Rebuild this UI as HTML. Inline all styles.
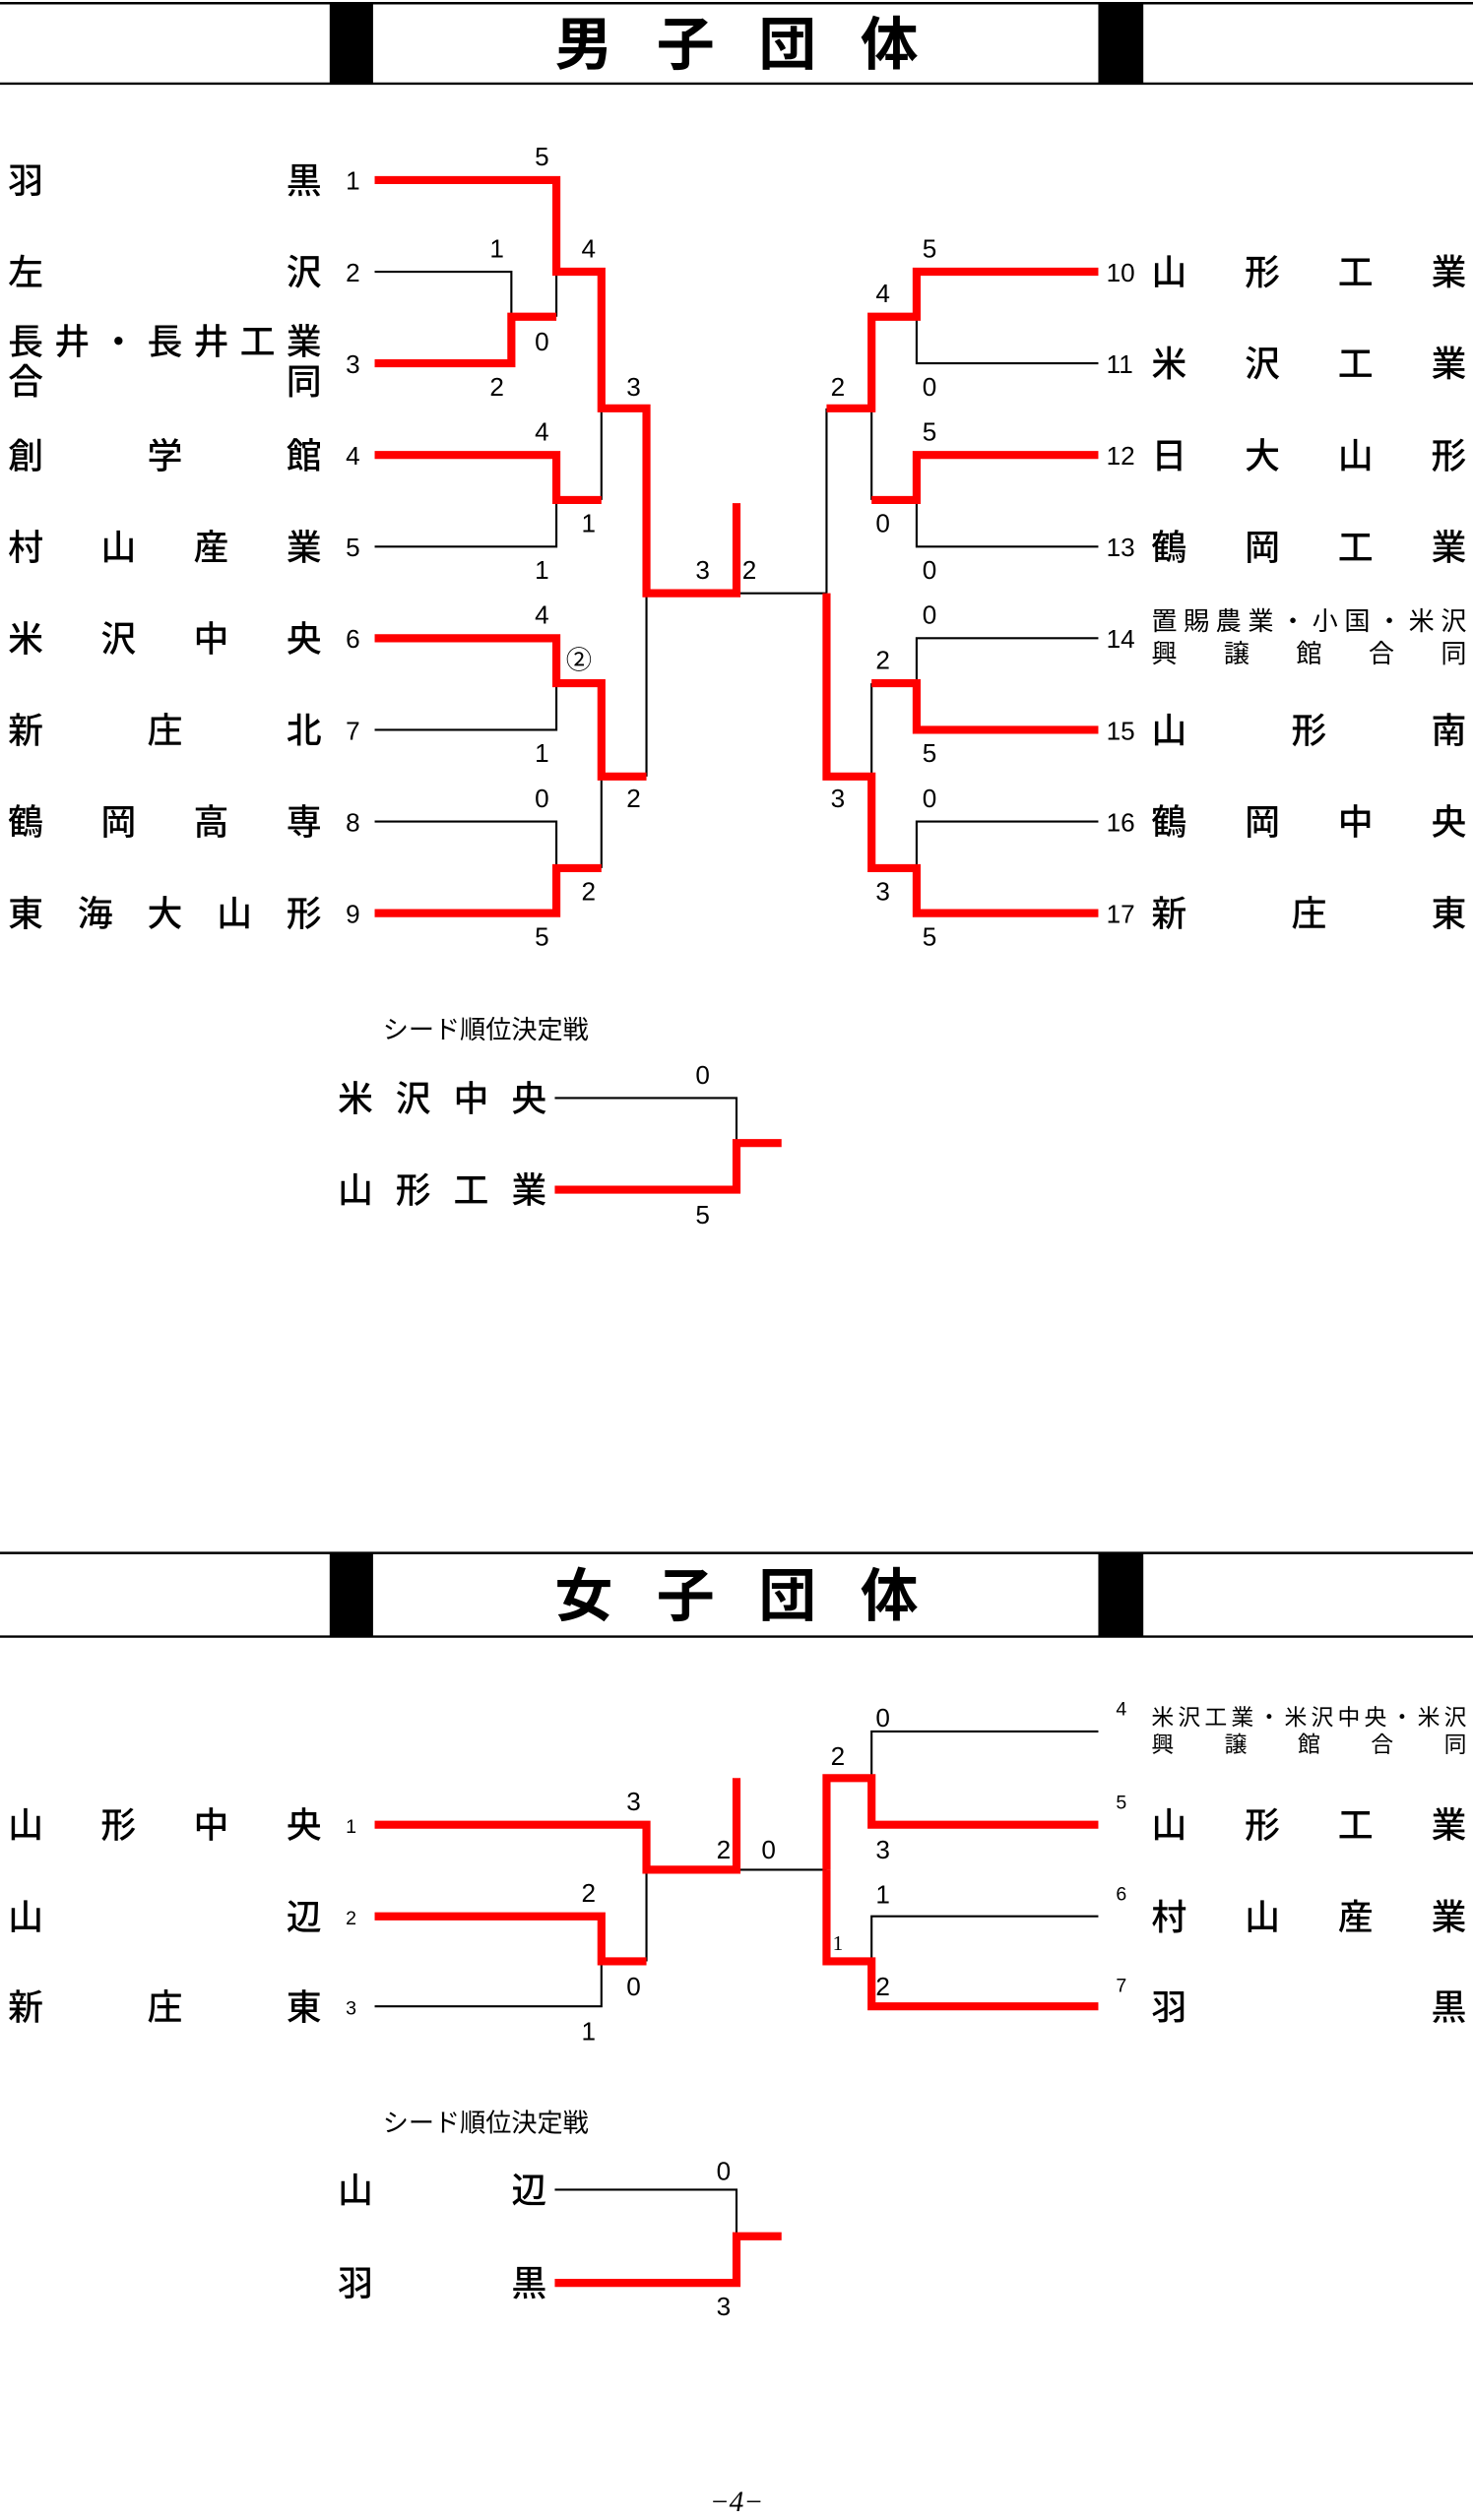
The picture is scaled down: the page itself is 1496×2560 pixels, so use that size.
<!DOCTYPE html>
<html><head><meta charset="utf-8"><style>
html,body{margin:0;padding:0;background:#fff;}
svg{display:block;}
text{font-family:"Liberation Sans","Noto Sans CJK JP",sans-serif;fill:#000;}
.n{font-size:22px;font-weight:500;}
.num{font-size:16px;}
.s{font-size:16px;text-anchor:middle;}
.r{fill:none;stroke:#f00;stroke-width:5;stroke-linejoin:miter;stroke-linecap:butt;}
.b{fill:none;stroke:#000;stroke-width:1.3;}
.t{font-family:"Liberation Sans","Noto Sans CJK JP",sans-serif;font-size:36px;font-weight:bold;}
</style></head><body>
<svg width="1496" height="2560" viewBox="0 0 916 1567.5" xmlns="http://www.w3.org/2000/svg">
<!-- header 1 -->
<line x1="0" y1="2" x2="916" y2="2" stroke="#000" stroke-width="1.5"/>
<line x1="0" y1="52" x2="916" y2="52" stroke="#000" stroke-width="1.5"/>
<rect x="205" y="2" width="27" height="50" fill="#000"/>
<rect x="683" y="2" width="28" height="50" fill="#000"/>
<text class="t" x="345" y="40" textLength="226" lengthAdjust="spacing">男子団体</text>

<!-- left names -->
<g class="n">
<text x="5" y="120" textLength="195" lengthAdjust="spacing">羽黒</text>
<text x="5" y="177" textLength="195" lengthAdjust="spacing">左沢</text>
<text x="5" y="220" textLength="195" lengthAdjust="spacing">長井・長井工業</text>
<text x="5" y="245" textLength="195" lengthAdjust="spacing">合同</text>
<text x="5" y="291" textLength="195" lengthAdjust="spacing">創学館</text>
<text x="5" y="348" textLength="195" lengthAdjust="spacing">村山産業</text>
<text x="5" y="405" textLength="195" lengthAdjust="spacing">米沢中央</text>
<text x="5" y="462" textLength="195" lengthAdjust="spacing">新庄北</text>
<text x="5" y="519" textLength="195" lengthAdjust="spacing">鶴岡高専</text>
<text x="5" y="576" textLength="195" lengthAdjust="spacing">東海大山形</text>
</g>
<g class="num">
<text x="215" y="118">1</text><text x="215" y="175">2</text><text x="215" y="232">3</text>
<text x="215" y="289">4</text><text x="215" y="346">5</text><text x="215" y="403">6</text>
<text x="215" y="460">7</text><text x="215" y="517">8</text><text x="215" y="574">9</text>
<text x="688" y="175">10</text><text x="688" y="232">11</text><text x="688" y="289">12</text>
<text x="688" y="346">13</text><text x="688" y="403">14</text><text x="688" y="460">15</text>
<text x="688" y="517">16</text><text x="688" y="574">17</text>
</g>
<!-- right names -->
<g class="n">
<text x="716" y="177" textLength="196" lengthAdjust="spacing">山形工業</text>
<text x="716" y="234" textLength="196" lengthAdjust="spacing">米沢工業</text>
<text x="716" y="291" textLength="196" lengthAdjust="spacing">日大山形</text>
<text x="716" y="348" textLength="196" lengthAdjust="spacing">鶴岡工業</text>
<text x="716" y="462" textLength="196" lengthAdjust="spacing">山形南</text>
<text x="716" y="519" textLength="196" lengthAdjust="spacing">鶴岡中央</text>
<text x="716" y="576" textLength="196" lengthAdjust="spacing">新庄東</text>
</g>
<text x="716" y="392" font-size="16" textLength="196" lengthAdjust="spacing">置賜農業・小国・米沢</text>
<text x="716" y="412" font-size="16" textLength="196" lengthAdjust="spacing">興譲館合同</text>

<!-- male bracket -->
<path class="b" d="M233,169 H318 V197 M346,169 V197 M374,254 V311 M233,340 H346 V311 M233,454 H346 V425 M233,511 H346 V540 M374,483 V540 M402,369 V483 M458,369 H514 M514,254 V369"/>
<path class="b" d="M683,226 H570 V197 M542,254 V311 M683,340 H570 V311 M683,397 H570 V425 M542,425 V483 M683,511 H570 V540"/>
<path class="r" d="M233,112 H346 V169 H374 V254 H402 V369 H458 V313"/>
<path class="r" d="M233,226 H318 V197 H346"/>
<path class="r" d="M233,283 H346 V311 H374"/>
<path class="r" d="M233,397 H346 V425 H374 V483 H402"/>
<path class="r" d="M233,568 H346 V540 H374"/>
<path class="r" d="M683,169 H570 V197 H542 V254 H514"/>
<path class="r" d="M683,283 H570 V311 H542"/>
<path class="r" d="M514,369 V483 H542 V540 H570 V568 H683"/>
<path class="r" d="M683,454 H570 V425 H542"/>

<g class="s">
<text x="337" y="103">5</text><text x="309" y="160">1</text><text x="366" y="160">4</text>
<text x="337" y="218">0</text><text x="309" y="246">2</text><text x="394" y="246">3</text>
<text x="337" y="274">4</text><text x="366" y="331">1</text><text x="337" y="360">1</text>
<text x="337" y="388">4</text><text x="360" y="416">②</text><text x="337" y="474">1</text>
<text x="337" y="502">0</text><text x="394" y="502">2</text><text x="366" y="560">2</text>
<text x="337" y="588">5</text><text x="437" y="360">3</text><text x="466" y="360">2</text>
<text x="578" y="160">5</text><text x="549" y="188">4</text><text x="578" y="246">0</text>
<text x="521" y="246">2</text><text x="578" y="274">5</text><text x="549" y="331">0</text>
<text x="578" y="360">0</text><text x="578" y="388">0</text><text x="549" y="416">2</text>
<text x="578" y="474">5</text><text x="521" y="502">3</text><text x="578" y="502">0</text>
<text x="549" y="560">3</text><text x="578" y="588">5</text>
</g>

<!-- seed 1 -->
<text x="238" y="646" font-size="16">シード順位決定戦</text>
<text class="n" x="210" y="691" textLength="130" lengthAdjust="spacing">米沢中央</text>
<text class="n" x="210" y="748" textLength="130" lengthAdjust="spacing">山形工業</text>
<path class="b" d="M345,683 H458 V711"/>
<path class="r" d="M345,740 H458 V711 H486"/>
<text class="s" x="437" y="674">0</text><text class="s" x="437" y="761">5</text>

<!-- header 2 -->
<line x1="0" y1="966" x2="916" y2="966" stroke="#000" stroke-width="1.5"/>
<line x1="0" y1="1018" x2="916" y2="1018" stroke="#000" stroke-width="1.5"/>
<rect x="205" y="966" width="27" height="52" fill="#000"/>
<rect x="683" y="966" width="28" height="52" fill="#000"/>
<text class="t" x="345" y="1005" textLength="226" lengthAdjust="spacing">女子団体</text>

<g class="n">
<text x="5" y="1143" textLength="195" lengthAdjust="spacing">山形中央</text>
<text x="5" y="1200" textLength="195" lengthAdjust="spacing">山辺</text>
<text x="5" y="1256" textLength="195" lengthAdjust="spacing">新庄東</text>
<text x="716" y="1143" textLength="196" lengthAdjust="spacing">山形工業</text>
<text x="716" y="1200" textLength="196" lengthAdjust="spacing">村山産業</text>
<text x="716" y="1256" textLength="196" lengthAdjust="spacing">羽黒</text>
</g>
<text x="716" y="1073" font-size="14" textLength="196" lengthAdjust="spacing">米沢工業・米沢中央・米沢</text>
<text x="716" y="1090" font-size="14" textLength="196" lengthAdjust="spacing">興譲館合同</text>
<g font-size="12">
<text x="215" y="1140">1</text><text x="215" y="1197">2</text><text x="215" y="1253">3</text>
<text x="694" y="1067">4</text><text x="694" y="1125">5</text><text x="694" y="1182">6</text><text x="694" y="1239">7</text>
</g>
<path class="b" d="M233,1248 H374 V1220 M402,1163 V1220 M458,1163 H514 M683,1077 H542 V1106 M683,1192 H542 V1220"/>
<path class="r" d="M233,1135 H402 V1163 H458 V1106"/>
<path class="r" d="M233,1192 H374 V1220 H402"/>
<path class="r" d="M514,1163 V1106 H542 V1135 H683"/>
<path class="r" d="M514,1163 V1220 H542 V1248 H683"/>
<g class="s">
<text x="366" y="1183">2</text><text x="394" y="1241">0</text><text x="366" y="1269">1</text>
<text x="394" y="1126">3</text><text x="450" y="1156">2</text><text x="478" y="1156">0</text>
<text x="549" y="1074">0</text><text x="521" y="1098">2</text><text x="549" y="1156">3</text>
<text x="549" y="1184">1</text><text x="549" y="1241">2</text>
<text x="521" y="1213" font-size="13" style="font-family:'Liberation Serif',serif">1</text>
</g>

<!-- seed 2 -->
<text x="238" y="1326" font-size="16">シード順位決定戦</text>
<text class="n" x="210" y="1370" textLength="130" lengthAdjust="spacing">山辺</text>
<text class="n" x="210" y="1428" textLength="130" lengthAdjust="spacing">羽黒</text>
<path class="b" d="M345,1362 H458 V1391"/>
<path class="r" d="M345,1420 H458 V1391 H486"/>
<text class="s" x="450" y="1356">0</text><text class="s" x="450" y="1440">3</text>

<text x="458" y="1562" font-size="18" text-anchor="middle" font-style="italic" style="font-family:'Liberation Serif',serif">−4−</text>
</svg>
</body></html>
